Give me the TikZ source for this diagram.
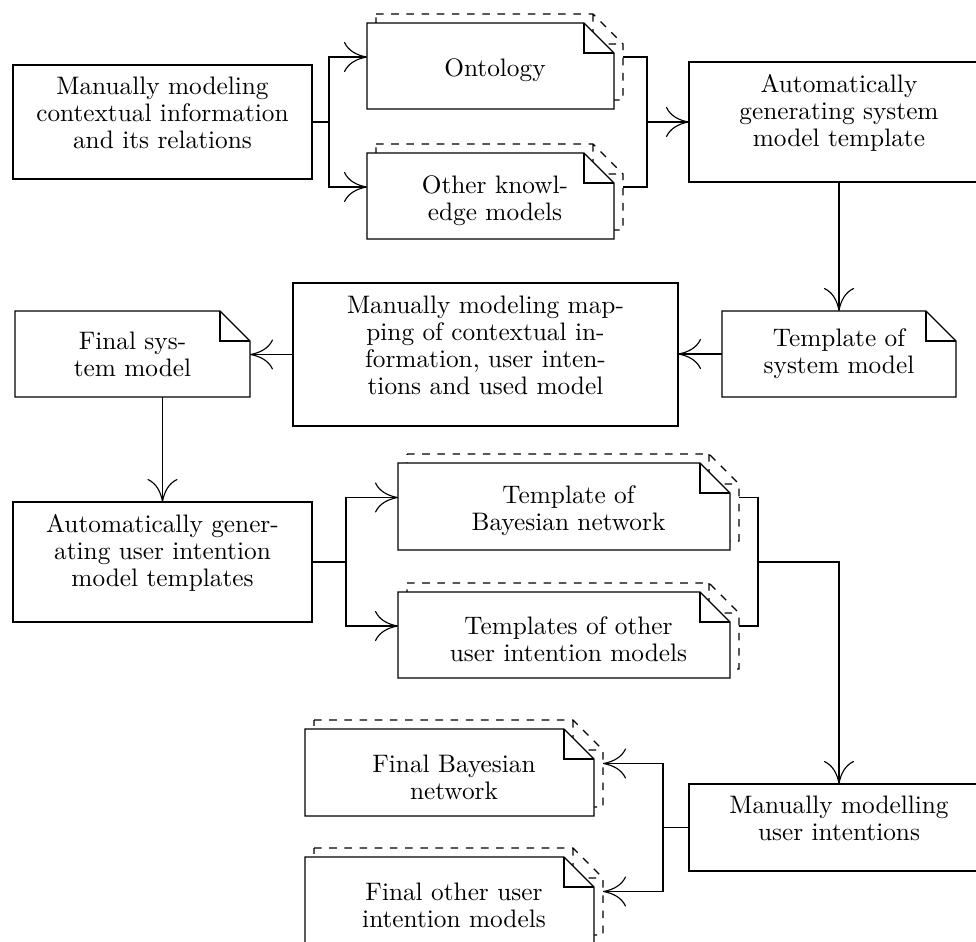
\documentclass[tikz,border=0pt]{standalone}
\usetikzlibrary{calc,fit,arrows.meta}

% outline of a sheet with a folded top-right corner, shifted by (#2,#3)
\newcommand{\sheet}[3]{%
  ($(#1.north west)+(#2,#3)$) -- ($(#1.north east)+(#2-30,#3)$) --
  ($(#1.north east)+(#2,#3+30)$) -- ($(#1.south east)+(#2,#3)$) --
  ($(#1.south west)+(#2,#3)$) -- cycle}
\newcommand{\sheetfold}[3]{%
  ($(#1.north east)+(#2-30,#3)$) |- ($(#1.north east)+(#2,#3+30)$)}

\begin{document}
\begin{tikzpicture}[x=0.3953pt,y=-0.3953pt,
  line width=0.45pt,
  txt/.style={font=\fontsize{10}{10.7}\selectfont, align=center, inner sep=0pt},
  box/.style={txt, draw, outer sep=0pt},
  frame/.style={inner sep=0pt, outer sep=0pt},
  front/.style={draw, fill=white},
  back/.style={draw, dashed},
  link/.style={draw},
  flow/.style={draw, -{To[length=9.1pt,width=11.9pt]}}]

\useasboundingbox (0,0) rectangle (976,942);
\clip (0,0) rectangle (976,942);

% process boxes
\node[box, fit={(13,65) (312,179)}] (A)
  {Manually modeling\\contextual information\\and its relations};
\node[box, fit={(689,62) (989,182)}] (B)
  {Automatically\\generating system\\model template};
\node[box, fit={(293,283) (678,426)}] (M)
  {Manually modeling map-\\ping of contextual in-\\formation, user inten-\\tions and used model};
\node[box, fit={(13,502) (312,622)}] (U)
  {Automatically gener-\\ating user intention\\model templates};
\node[box, fit={(689,784) (989,871)}] (I)
  {Manually modelling\\user intentions};

% document frames
\node[frame, fit={(367,23) (614,109)}] (ont) {};
\node[frame, fit={(367,153) (614,239)}] (okm) {};
\node[frame, fit={(722,311) (956,397)}] (tsm) {};
\node[frame, fit={(15,311) (250,397)}] (fsm) {};
\node[frame, fit={(398,463) (730,550)}] (tbn) {};
\node[frame, fit={(398,592) (730,678)}] (tum) {};
\node[frame, fit={(305,729) (594,816)}] (fbn) {};
\node[frame, fit={(305,857) (594,944)}] (fou) {};

% stacked copies behind the multi-documents
\foreach \d in {ont,okm,tbn,tum,fbn,fou}{
  \path[back] \sheet{\d}{9}{-9} \sheetfold{\d}{9}{-9};
}
% front sheets
\foreach \d in {ont,okm,tsm,fsm,tbn,tum,fbn,fou}{
  \path[front] \sheet{\d}{0}{0};
  \path[draw] \sheetfold{\d}{0}{0};
}

% document labels
\node[txt] (ont-t) at ($(ont.center)+(4.5,4.5)$) {Ontology};
\node[txt] (okm-t) at ($(okm.center)+(4.5,4.5)$) {Other knowl-\\edge models};
\node[txt] (tsm-t) at (tsm.center) {Template of\\system model};
\node[txt] (fsm-t) at (fsm.center) {Final sys-\\tem model};
\node[txt] (tbn-t) at ($(tbn.center)+(4.5,4.5)$) {Template of\\Bayesian network};
\node[txt] (tum-t) at ($(tum.center)+(4.5,4.5)$) {Templates of other\\user intention models};
\node[txt] (fbn-t) at ($(fbn.center)+(4.5,4.5)$) {Final Bayesian\\network};
\node[txt] (fou-t) at ($(fou.center)+(4.5,4.5)$) {Final other user\\intention models};

% junction points
\coordinate (jA) at (329,122);
\coordinate (jB) at (647,122);
\coordinate (jU) at (346,562);
\coordinate (jT) at (758,562);
\coordinate (jI) at (663,827.5);

% connectors
\draw[link] (A.east) -- (jA);
\draw[flow] (jA) |- ($(ont.west)+(0,-9)$);
\draw[flow] (jA) |- ($(okm.west)+(0,-9)$);
\draw[link] ($(ont.east)+(9,-9)$) -| (jB);
\draw[link] ($(okm.east)+(9,-9)$) -| (jB);
\draw[flow] (jB) -- (B.west |- jB);
\draw[flow] (B.south -| tsm.north) -- (tsm.north);
\draw[flow] (tsm.west) -- (tsm.west -| M.east);
\draw[flow] (M.west) -- (M.west -| fsm.east);
\draw[flow] (fsm.south -| U.north) -- (U.north);
\draw[link] (U.east) -- (jU);
\draw[flow] (jU) |- ($(tbn.west)+(0,-9)$);
\draw[flow] (jU) |- ($(tum.west)+(0,-9)$);
\draw[link] ($(tbn.east)+(9,-9)$) -| (jT);
\draw[link] ($(tum.east)+(9,-9)$) -| (jT);
\draw[flow] (jT) -| (I.north);
\draw[link] (I.west) -- (jI);
\draw[flow] (jI) |- ($(fbn.east)+(9,-9)$);
\draw[flow] (jI) |- ($(fou.east)+(9,-9)$);
\end{tikzpicture}
\end{document}
